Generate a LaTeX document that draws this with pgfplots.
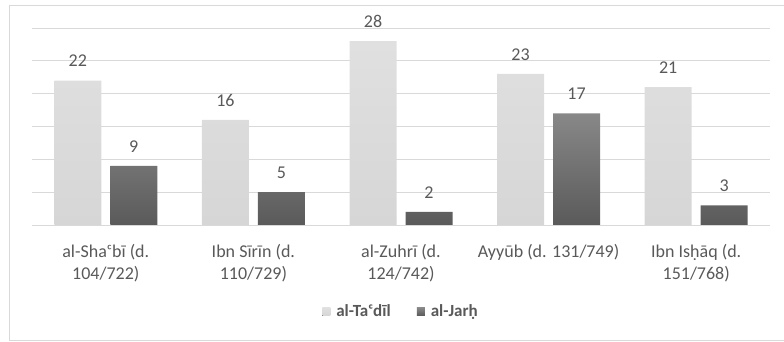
\documentclass[border=0pt]{standalone}
\usepackage{pgfplots}
\pgfplotsset{compat=1.18}
\usepackage{fontspec}
\setmainfont{Carlito}

\definecolor{labelgray}{HTML}{595959}
\definecolor{gridgray}{HTML}{D9D9D9}
\definecolor{framegray}{HTML}{D9D9D9}
\definecolor{lighttop}{HTML}{E0E0E0}
\definecolor{lightbot}{HTML}{D6D6D6}
\definecolor{darktop}{HTML}{888888}
\definecolor{darkbot}{HTML}{5A5A5A}

\begin{document}
\begin{tikzpicture}[x=1pt,y=1pt]
  % the axis box starts at the origin; page and frame are laid out around it
  \path[use as bounding box] (-32,-117) rectangle (752,225);
  \draw[framegray, line width=0.8pt] (753,220) -- (-23,220) -- (-23,-115.5) -- (753,-115.5);
  \begin{axis}[
    scale only axis, width=738pt, height=197pt,
    xmin=-0.5, xmax=4.5, ymin=0, ymax=30,
    ytick={0,5,...,30}, yticklabels={},
    ymajorgrids, grid style={gridgray, line width=0.8pt},
    axis line style={draw=none},
    major tick length=0pt,
    xtick={0,1,2,3,4},
    xticklabels={{al-Shaᶜbī (d.\\104/722)},{Ibn Sīrīn (d.\\110/729)},{al-Zuhrī (d.\\124/742)},{Ayyūb (d. 131/749)},{Ibn Isḥāq (d.\\151/768)}},
    xticklabel style={align=center, text=labelgray,
      font=\fontsize{18}{21.5}\selectfont, yshift=-16pt},
    ybar, bar width=47pt,
    /pgf/number format/assume math mode=true,
    nodes near coords,
    nodes near coords style={text=labelgray, font=\fontsize{18}{20}\selectfont, yshift=10pt},
    legend columns=2,
    legend style={at={(0.5,-0.44)}, anchor=center, draw=none,
      font=\bfseries\fontsize{17}{20}\selectfont, text=labelgray,
      /tikz/every even column/.append style={column sep=24pt}},
    legend image code/.code={\fill[#1] (0pt,-4pt) rectangle (8pt,4pt); \path (12pt,0pt);},
  ]
    \addplot[bar shift=-28pt, draw=none, top color=lighttop, bottom color=lightbot]
      coordinates {(0,22) (1,16) (2,28) (3,23) (4,21)};
    \addplot[bar shift=28pt, draw=none, top color=darktop, bottom color=darkbot]
      coordinates {(0,9) (1,5) (2,2) (3,17) (4,3)};
    \legend{al-Taᶜdīl, al-Jarḥ}
  \end{axis}
\end{tikzpicture}
\end{document}
